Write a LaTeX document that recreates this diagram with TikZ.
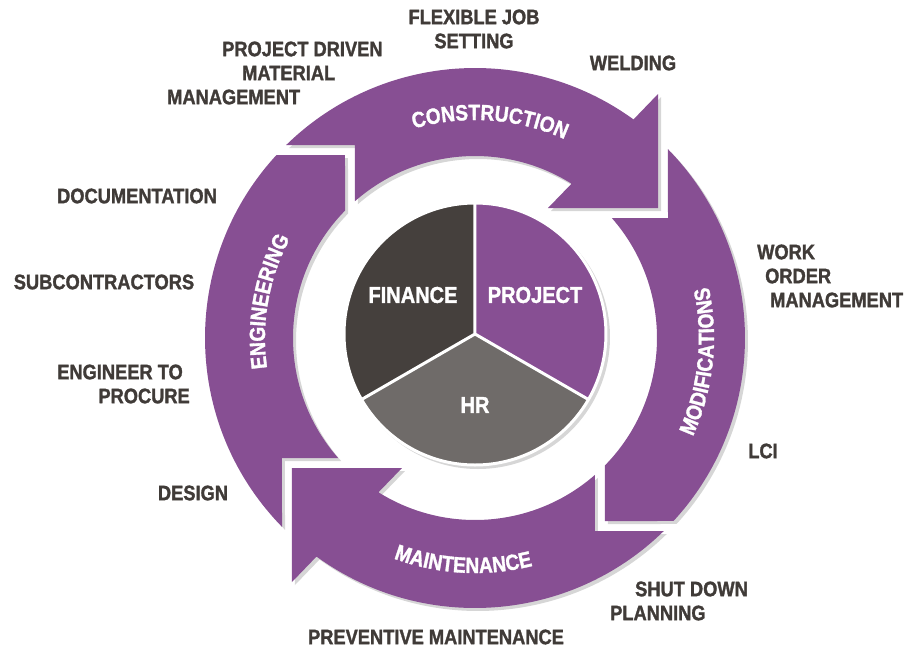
\documentclass[tikz,border=0pt]{standalone}
\usepackage{fontspec}
\setmainfont{Liberation Sans}[FakeStretch=0.87,BoldFeatures={FakeBold=1.4}]
\usetikzlibrary{decorations.text}
\definecolor{cyclepurple}{HTML}{874F93}
\definecolor{piedark}{HTML}{45403D}
\definecolor{piegray}{HTML}{6F6B69}
\definecolor{labelgray}{HTML}{403B38}
\newcommand{\bandfont}{\fontsize{22}{26}\selectfont\bfseries}

\begin{document}
\begin{tikzpicture}[x=1pt,y=1pt,
    lbl/.style={font=\fontsize{21}{24}\selectfont\bfseries,text=labelgray,inner sep=0pt},
    pielbl/.style={font=\fontsize{23}{26}\selectfont\bfseries,text=white,inner sep=0pt},
    dropshade/.style={fill=black,opacity=0.16,transform canvas={xshift=3pt,yshift=-3pt}},
    barbhead/.style={insert path={(134.37:270) arc[start angle=134.37,end angle=54.05,radius=270]
      -- (183,244) -- (183,130) -- (73,130) -- (57.97:182)
      arc[start angle=57.97,end angle=131.25,radius=182] -- (-120,193) -- cycle}},
    plainhead/.style={insert path={(134.37:270) arc[start angle=134.37,end angle=47.33,radius=270]
      -- (183,130) -- (45.58:182)
      arc[start angle=45.58,end angle=131.25,radius=182] -- (-120,193) -- cycle}},
    bandtext/.style={decorate,decoration={text along path,text align=center,
      text color=white,text={|\bandfont|#1}}}]
  \useasboundingbox (-475,-311) rectangle (433,338) ;
  % cycle of arrows
  \foreach \rot/\kind in {0/barbhead,-90/plainhead,-180/barbhead,-270/plainhead}
    \fill[dropshade,rotate=\rot,\kind] ;
  \foreach \rot/\kind in {0/barbhead,-90/plainhead,-180/barbhead,-270/plainhead}
    \fill[cyclepurple,rotate=\rot,\kind] ;
  \path[bandtext=CONSTRUCTION] (130:218) arc[start angle=130,end angle=42,radius=218] ;
  \path[bandtext=MODIFICATIONS] (-50:239) arc[start angle=-50,end angle=38,radius=239] ;
  \path[bandtext=MAINTENANCE] (-140:235) arc[start angle=-140,end angle=-46,radius=235] ;
  \path[bandtext=ENGINEERING] (215:210) arc[start angle=215,end angle=125,radius=210] ;
  % pie in the middle
  \begin{scope}[shift={(0,4)}]
    \fill[dropshade] (0,0) circle[radius=132] ;
    \fill[piedark] (0,0) -- (90:130) arc[start angle=90,end angle=210,radius=130] -- cycle ;
    \fill[cyclepurple] (0,0) -- (-30:130) arc[start angle=-30,end angle=90,radius=130] -- cycle ;
    \fill[piegray] (0,0) -- (210:130) arc[start angle=210,end angle=330,radius=130] -- cycle ;
    \draw[white,line width=3pt] (0,0) -- (90:130) (0,0) -- (210:130) (0,0) -- (-30:130) ;
    \draw[white,line width=3pt] (0,0) circle[radius=131] ;
  \end{scope}
  \node[pielbl] (finance) at (-62,43) {FINANCE} ;
  \node[pielbl] (project) at (60,43) {PROJECT} ;
  \node[pielbl] (hr) at (0,-67) {HR} ;
  % labels round the cycle
  \node[lbl,align=center] (flexjob) at (-1,309) {FLEXIBLE JOB\\SETTING} ;
  \node[lbl,align=left,anchor=west] (pdmaterial) at (-308,265) %
    {\hspace*{55pt}PROJECT DRIVEN\\\hspace*{75pt}MATERIAL\\MANAGEMENT} ;
  \node[lbl] (welding) at (158,275) {WELDING} ;
  \node[lbl] (documentation) at (-338,142) {DOCUMENTATION} ;
  \node[lbl] (subcontractors) at (-371,56) {SUBCONTRACTORS} ;
  \node[lbl,align=right,anchor=east] (engprocure) at (-285,-46) {ENGINEER TO\hspace*{7pt}\\PROCURE} ;
  \node[lbl] (design) at (-282,-155) {DESIGN} ;
  \node[lbl,align=left,anchor=west] (workorder) at (282,62) %
    {WORK\\\hspace*{8pt}ORDER\\\hspace*{13pt}MANAGEMENT} ;
  \node[lbl] (lci) at (288,-113) {LCI} ;
  \node[lbl,align=left,anchor=west] (shutdown) at (135,-263) {\hspace*{25pt}SHUT DOWN\\PLANNING} ;
  \node[lbl] (preventive) at (-39,-299) {PREVENTIVE MAINTENANCE} ;
\end{tikzpicture}
\end{document}
